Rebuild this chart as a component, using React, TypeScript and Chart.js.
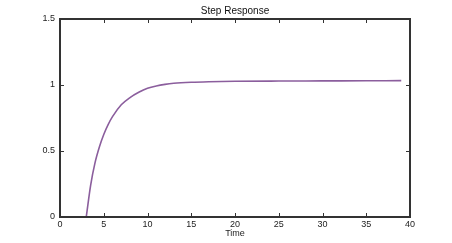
import React, { useEffect, useRef } from "react";
import { Chart, registerables } from "chart.js";

Chart.register(...registerables);

const TITLE = "Step Response";
const X_LABEL = "Time";
const timeValues = [3, 3.5, 4, 4.5, 5, 5.5, 6, 7, 8, 9, 10, 11, 12, 13, 15, 17, 20, 25, 30, 35, 39];
const responseValues = [0, 0.24, 0.41, 0.53, 0.625, 0.7, 0.76, 0.85, 0.905, 0.945, 0.975, 0.993, 1.005, 1.013, 1.021, 1.025, 1.028, 1.03, 1.031, 1.032, 1.033];
const X_MIN = 0, X_MAX = 40, X_STEP = 5;
const Y_MIN = 0, Y_MAX = 1.5, Y_STEP = 0.5;

const FONT = "'Liberation Sans', Arial, sans-serif";
const FRAME = "#333333";

const framePlugin = {
  id: "frame",
  afterDraw(chart: any) {
    const { ctx, chartArea: a, scales } = chart;
    ctx.save();
    ctx.strokeStyle = FRAME;
    ctx.lineWidth = 2;
    ctx.strokeRect(a.left, a.top, a.right - a.left, a.bottom - a.top);
    ctx.lineWidth = 1;
    const L = 4;
    ctx.beginPath();
    scales.x.ticks.forEach((t: any) => {
      const px = Math.round(scales.x.getPixelForValue(t.value)) + 0.5;
      ctx.moveTo(px, a.bottom);
      ctx.lineTo(px, a.bottom - L);
      ctx.moveTo(px, a.top);
      ctx.lineTo(px, a.top + L);
    });
    scales.y.ticks.forEach((t: any) => {
      const py = Math.round(scales.y.getPixelForValue(t.value)) + 0.5;
      ctx.moveTo(a.left, py);
      ctx.lineTo(a.left + L, py);
      ctx.moveTo(a.right, py);
      ctx.lineTo(a.right - L, py);
    });
    ctx.stroke();
    ctx.fillStyle = "#111";
    ctx.font = `10px ${FONT}`;
    ctx.textAlign = "center";
    ctx.textBaseline = "middle";
    ctx.fillText(TITLE, (a.left + a.right) / 2, 11.5);
    ctx.restore();
  },
};

export default function App() {
  const ref = useRef<HTMLCanvasElement>(null);
  useEffect(() => {
    document.body.style.margin = "0";
    const data = timeValues.map((t, i) => ({ x: t, y: responseValues[i] }));
    const chart = new Chart(ref.current!, {
      type: "line",
      data: {
        datasets: [
          {
            label: TITLE,
            data,
            borderColor: "#8B5E9D",
            borderWidth: 1.6,
            pointRadius: 0,
            cubicInterpolationMode: "monotone",
            fill: false,
          },
        ],
      },
      options: {
        responsive: false,
        animation: false,
        devicePixelRatio: 1,
        layout: { padding: { left: 0, right: 42, top: 19, bottom: 0 } },
        plugins: {
          legend: { display: false },
          tooltip: { enabled: false },
          title: { display: false },
        },
        scales: {
          x: {
            type: "linear",
            min: X_MIN,
            max: X_MAX,
            grid: { display: false, drawTicks: false },
            border: { display: false },
            ticks: {
              stepSize: X_STEP,
              padding: 2,
              color: "#222",
              font: { family: FONT, size: 9 },
              maxRotation: 0,
            },
            title: {
              display: true,
              text: X_LABEL,
              color: "#222",
              font: { family: FONT, size: 9 },
              padding: { top: 0, bottom: 4 },
            },
            afterFit: (s: any) => {
              s.height = 26;
            },
          },
          y: {
            type: "linear",
            min: Y_MIN,
            max: Y_MAX,
            grid: { display: false, drawTicks: false },
            border: { display: false },
            ticks: {
              stepSize: Y_STEP,
              padding: 5,
              color: "#222",
              font: { family: FONT, size: 9 },
              callback: (v: any) => String(v),
            },
            afterFit: (s: any) => {
              s.width = 60;
            },
          },
        },
      },
      plugins: [framePlugin],
    });
    return () => chart.destroy();
  }, []);
  return (
    <div style={{ width: 452, height: 243, background: "#fff" }}>
      <canvas ref={ref} width={452} height={243} />
    </div>
  );
}
